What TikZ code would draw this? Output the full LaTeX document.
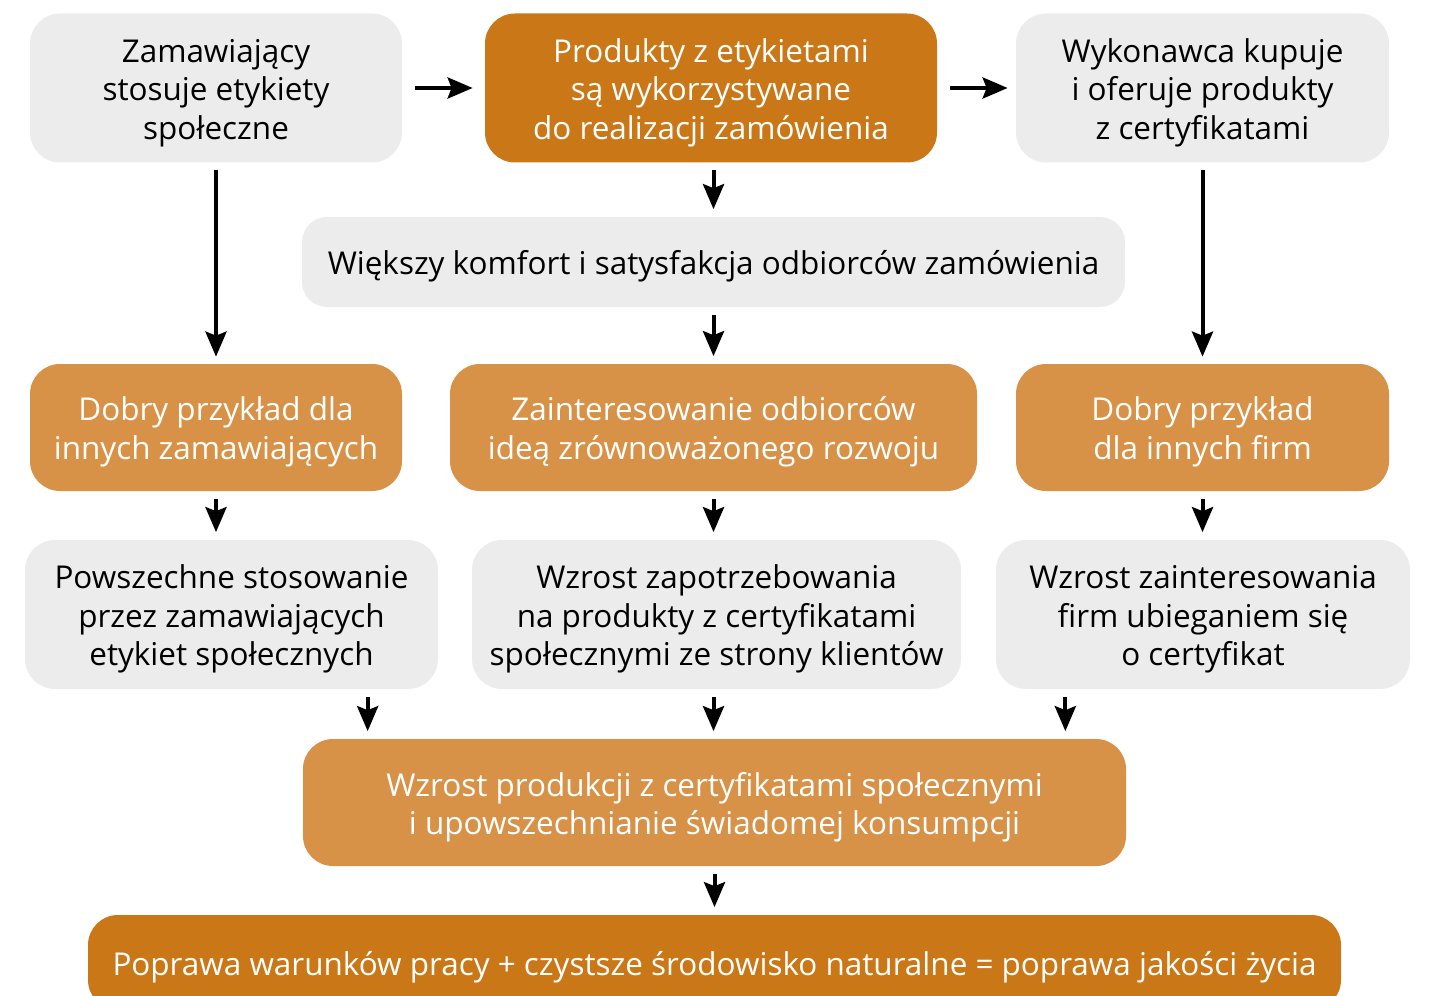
\documentclass[tikz,border=0pt]{standalone}
\usepackage{fontspec}
\setmainfont{Open Sans}
\usetikzlibrary{arrows.meta,positioning}
\definecolor{ciemnypom}{HTML}{CA7718}
\definecolor{jasnypom}{HTML}{D79248}
\definecolor{szary}{HTML}{ECECEC}
\newcommand{\podpora}{\rule{0pt}{1.05em}}

\begin{document}
\begin{tikzpicture}
  [pole/.style={
    rectangle,
    rounded corners=0.6cm,
    align=center,
    inner sep=0pt,
    font=\fontsize{17.9}{21.9}\selectfont
    },
   szare/.style={pole, fill=szary, text=black},
   ciemne/.style={pole, fill=ciemnypom, text=white},
   jasne/.style={pole, fill=jasnypom, text=white},
   strzalka/.style={
    -{Stealth[length=0.5cm,width=0.42cm,inset=0.08cm]},
    line width=0.08cm,
    shorten <=0.15cm,
    shorten >=0.15cm
    }
  ]
  \useasboundingbox (0,0) rectangle (28.6,-19.92);

  % pierwszy rzad
  \node [szare, minimum width=7.44cm, minimum height=2.98cm] (zamawiajacy) at (4.32,-1.76)
    {\podpora Zamawiający\\stosuje etykiety\\społeczne};
  \node [ciemne, minimum width=9.04cm, minimum height=2.98cm] (produkty) at (14.22,-1.76)
    {\podpora Produkty z etykietami\\są wykorzystywane\\do realizacji zamówienia};
  \node [szare, minimum width=7.46cm, minimum height=2.98cm] (wykonawca) at (24.05,-1.76)
    {\podpora Wykonawca kupuje\\i oferuje produkty\\z certyfikatami};

  \node [szare, minimum width=16.46cm, minimum height=1.8cm, rounded corners=0.5cm] (komfort) at (14.27,-5.24)
    {\podpora Większy komfort i satysfakcja odbiorców zamówienia};

  % drugi rzad
  \node [jasne, minimum width=7.44cm, minimum height=2.54cm] (przykladzam) at (4.32,-8.55)
    {\podpora Dobry przykład dla\\innych zamawiających};
  \node [jasne, minimum width=10.54cm, minimum height=2.54cm] (zainteresowanie) at (14.27,-8.55)
    {\podpora Zainteresowanie odbiorców\\ideą zrównoważonego rozwoju};
  \node [jasne, minimum width=7.46cm, minimum height=2.54cm] (przykladfirm) at (24.05,-8.55)
    {\podpora Dobry przykład\\dla innych firm};

  % trzeci rzad
  \node [szare, minimum width=8.26cm, minimum height=2.98cm] (powszechne) at (4.63,-12.29)
    {\podpora Powszechne stosowanie\\przez zamawiających\\etykiet społecznych};
  \node [szare, minimum width=9.78cm, minimum height=2.98cm] (zapotrzebowanie) at (14.33,-12.29)
    {\podpora Wzrost zapotrzebowania\\na produkty z certyfikatami\\społecznymi ze strony klientów};
  \node [szare, minimum width=8.28cm, minimum height=2.98cm] (zainteresfirm) at (24.06,-12.29)
    {\podpora Wzrost zainteresowania\\firm ubieganiem się\\o certyfikat};

  \node [jasne, minimum width=16.46cm, minimum height=2.54cm] (produkcja) at (14.29,-16.05)
    {\podpora Wzrost produkcji z certyfikatami społecznymi\\i upowszechnianie świadomej konsumpcji};
  \node [ciemne, minimum width=25.06cm, minimum height=1.9cm] (poprawa) at (14.29,-19.25)
    {\podpora Poprawa warunków pracy + czystsze środowisko naturalne = poprawa jakości życia};

  \draw[strzalka, shorten <=0.26cm, shorten >=0.24cm] (zamawiajacy) -- (produkty);
  \draw[strzalka, shorten <=0.26cm, shorten >=0.16cm] (produkty) -- (wykonawca);
  \draw[strzalka, shorten <=0.14cm, shorten >=0.14cm] (zamawiajacy) -- (przykladzam);
  \draw[strzalka, shorten <=0.14cm, shorten >=0.14cm] (wykonawca) -- (przykladfirm);
  \draw[strzalka] (produkty.south -| komfort.north) -- (komfort.north);
  \draw[strzalka] (komfort) -- (zainteresowanie);
  \draw[strzalka] (przykladzam) -- (przykladzam |- powszechne.north);
  \draw[strzalka] (zainteresowanie) -- (zainteresowanie |- zapotrzebowanie.north);
  \draw[strzalka] (przykladfirm) -- (przykladfirm |- zainteresfirm.north);
  \draw[strzalka] ([xshift=1.3cm]produkcja.north west |- powszechne.south) -- ([xshift=1.3cm]produkcja.north west);
  \draw[strzalka] (zainteresowanie |- zapotrzebowanie.south) -- (zainteresowanie |- produkcja.north);
  \draw[strzalka] ([xshift=-1.22cm]produkcja.north east |- zainteresfirm.south) -- ([xshift=-1.22cm]produkcja.north east);
  \draw[strzalka] (produkcja) -- (poprawa);
\end{tikzpicture}
\end{document}
